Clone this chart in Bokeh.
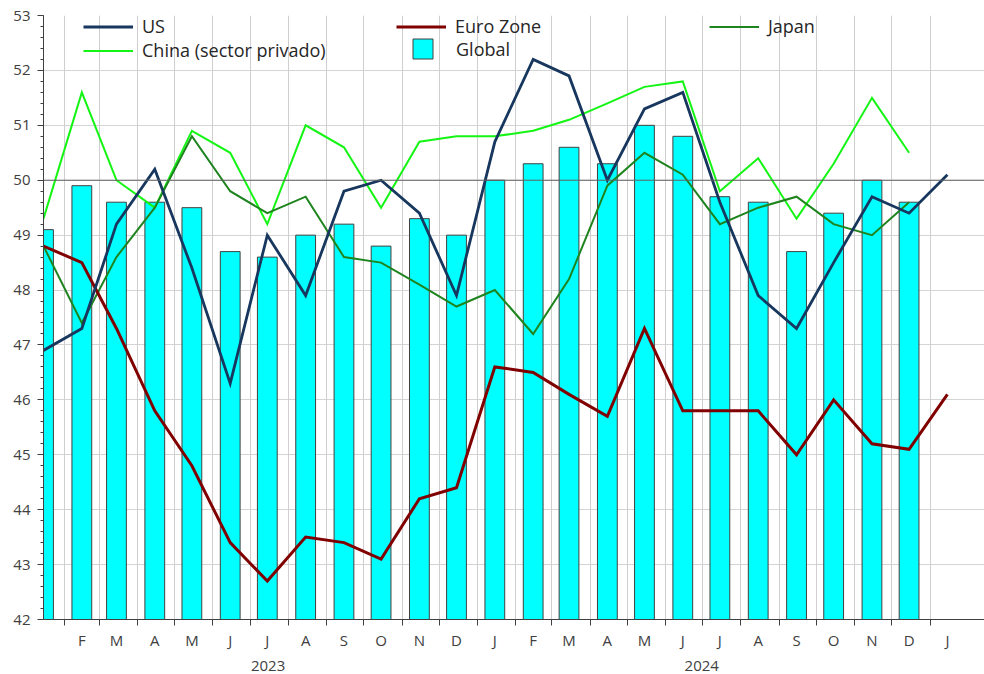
import pandas as pd
from bokeh.plotting import figure
from bokeh.models import (LinearAxis, FixedTicker, SingleIntervalTicker, Range1d, Legend,
                          LegendItem, Span, Grid, ColumnDataSource)
from bokeh.embed import file_html
from bokeh.resources import INLINE

# ---------------- data ----------------
month_letters = ["J", "F", "M", "A", "M", "J", "J", "A", "S", "O", "N", "D"] * 2 + ["J"]
year_labels = ["2023", "2024"]

us = [46.9, 47.3, 49.2, 50.2, 48.4, 46.3, 49.0, 47.9, 49.8, 50.0, 49.4, 47.9,
      50.7, 52.2, 51.9, 50.0, 51.3, 51.6, 49.6, 47.9, 47.3, 48.5, 49.7, 49.4, 50.1]
euro_zone = [48.8, 48.5, 47.3, 45.8, 44.8, 43.4, 42.7, 43.5, 43.4, 43.1, 44.2, 44.4,
             46.6, 46.5, 46.1, 45.7, 47.3, 45.8, 45.8, 45.8, 45.0, 46.0, 45.2, 45.1, 46.1]
japan = [48.8, 47.4, 48.6, 49.5, 50.8, 49.8, 49.4, 49.7, 48.6, 48.5, 48.1, 47.7,
         48.0, 47.2, 48.2, 49.9, 50.5, 50.1, 49.2, 49.5, 49.7, 49.2, 49.0, 49.6]
china = [49.3, 51.6, 50.0, 49.5, 50.9, 50.5, 49.2, 51.0, 50.6, 49.5, 50.7, 50.8,
         50.8, 50.9, 51.1, 51.4, 51.7, 51.8, 49.8, 50.4, 49.3, 50.3, 51.5, 50.5]
global_pmi = [49.1, 49.9, 49.6, 49.6, 49.5, 48.7, 48.6, 49.0, 49.2, 48.8, 49.3, 49.0,
              50.0, 50.3, 50.6, 50.3, 51.0, 50.8, 49.7, 49.6, 48.7, 49.4, 50.0, 49.6]

y_min, y_max = 42, 53

# ---------------- x positions (days since 2023-01-01) ----------------
origin = pd.Timestamp("2023-01-01")
month_starts = pd.date_range("2023-01-01", periods=len(us), freq="MS")
start_days = [int((m - origin).days) for m in month_starts]
x_pts = [d + 14 for d in start_days]          # mid-month (15th)
x_end = int((pd.Timestamp("2025-02-14") - origin).days)

label_ticks = x_pts[1:]
label_over = {x_pts[i]: month_letters[i] for i in range(1, len(x_pts))}
boundaries = start_days[1:]
year_ticks = [sum(x_pts[1:12]) / 11.0, sum(x_pts[12:24]) / 12.0]
year_over = {year_ticks[0]: year_labels[0], year_ticks[1]: year_labels[1]}

FONT = "Open Sans"
TXT = "#404040"

p = figure(width=984, height=674, x_range=Range1d(x_pts[0], x_end),
           y_range=Range1d(y_min, y_max), x_axis_type=None,
           output_backend="svg", toolbar_location=None,
           min_border_left=43, min_border_right=0, min_border_top=15, min_border_bottom=55)
p.outline_line_color = None
p.background_fill_color = "white"

# y axis
yt = SingleIntervalTicker(interval=1, num_minor_ticks=5)
yax = p.yaxis[0]
yax.ticker = yt
yax.axis_line_color = "#404040"
yax.major_tick_line_color = "#404040"
yax.minor_tick_line_color = "#404040"
yax.major_tick_out = 6
yax.major_tick_in = 0
yax.minor_tick_out = 3
yax.minor_tick_in = 0
yax.major_label_standoff = 7
yax.major_label_text_font = FONT
yax.major_label_text_font_size = "15px"
yax.major_label_text_color = TXT
p.ygrid.ticker = yt
p.ygrid.grid_line_color = "#d4d4d4"

# x grid at month boundaries
p.add_layout(Grid(dimension=0, ticker=FixedTicker(ticks=boundaries),
                  grid_line_color="#cfcfcf"))

# month axis
max_ = LinearAxis(ticker=FixedTicker(ticks=label_ticks, minor_ticks=boundaries),
                  major_label_overrides=label_over,
                  major_tick_out=0, major_tick_in=0,
                  minor_tick_out=6, minor_tick_in=0,
                  axis_line_color="#404040", minor_tick_line_color="#404040",
                  major_tick_line_color=None,
                  major_label_standoff=4,
                  major_label_text_font=FONT, major_label_text_font_size="15px",
                  major_label_text_color=TXT)
p.add_layout(max_, "below")

# year axis
yax2 = LinearAxis(ticker=FixedTicker(ticks=year_ticks), major_label_overrides=year_over,
                  axis_line_color=None, major_tick_line_color=None,
                  minor_tick_line_color=None, major_tick_out=0, major_tick_in=0,
                  major_label_standoff=8,
                  major_label_text_font=FONT, major_label_text_font_size="15px",
                  major_label_text_color=TXT)
p.add_layout(yax2, "below")

# bars
src_g = ColumnDataSource(dict(x=x_pts[:len(global_pmi)], y=global_pmi))
r_gl = p.vbar(x="x", top="y", bottom=y_min, width=16, source=src_g,
              fill_color="#00ffff", line_color="#404040", line_width=1)

p.add_layout(Span(location=50, dimension="width", line_color="#606060", line_width=1))

r_cn = p.line(x_pts[:len(china)], china, line_color="#14f514", line_width=2, line_join="miter")
r_jp = p.line(x_pts[:len(japan)], japan, line_color="#1e841e", line_width=2, line_join="miter")
r_eu = p.line(x_pts[:len(euro_zone)], euro_zone, line_color="#800000", line_width=3, line_join="miter")
r_us = p.line(x_pts[:len(us)], us, line_color="#17375e", line_width=2.8, line_join="miter")

leg1 = Legend(items=[LegendItem(label="US", renderers=[r_us]),
                     LegendItem(label="Euro Zone", renderers=[r_eu]),
                     LegendItem(label="Japan", renderers=[r_jp]),
                     LegendItem(label="China (sector privado)", renderers=[r_cn])],
              location=(40, 557), orientation="horizontal", ncols=3,
              glyph_width=50, glyph_height=19, label_height=19, label_width=254,
              spacing=0, padding=0, margin=0, label_standoff=9,
              border_line_color=None, background_fill_alpha=0,
              label_text_font=FONT, label_text_font_size="18px", label_text_color="#262626")
p.add_layout(leg1)

leg2 = Legend(items=[LegendItem(label="Global", renderers=[r_gl])],
              location=(367, 558), glyph_width=25, glyph_height=25, label_height=25,
              padding=0, margin=0, label_standoff=21,
              border_line_color=None, background_fill_alpha=0,
              label_text_font=FONT, label_text_font_size="18px", label_text_color="#262626")
p.add_layout(leg2)

open("out.html", "w").write(file_html(p, INLINE))
